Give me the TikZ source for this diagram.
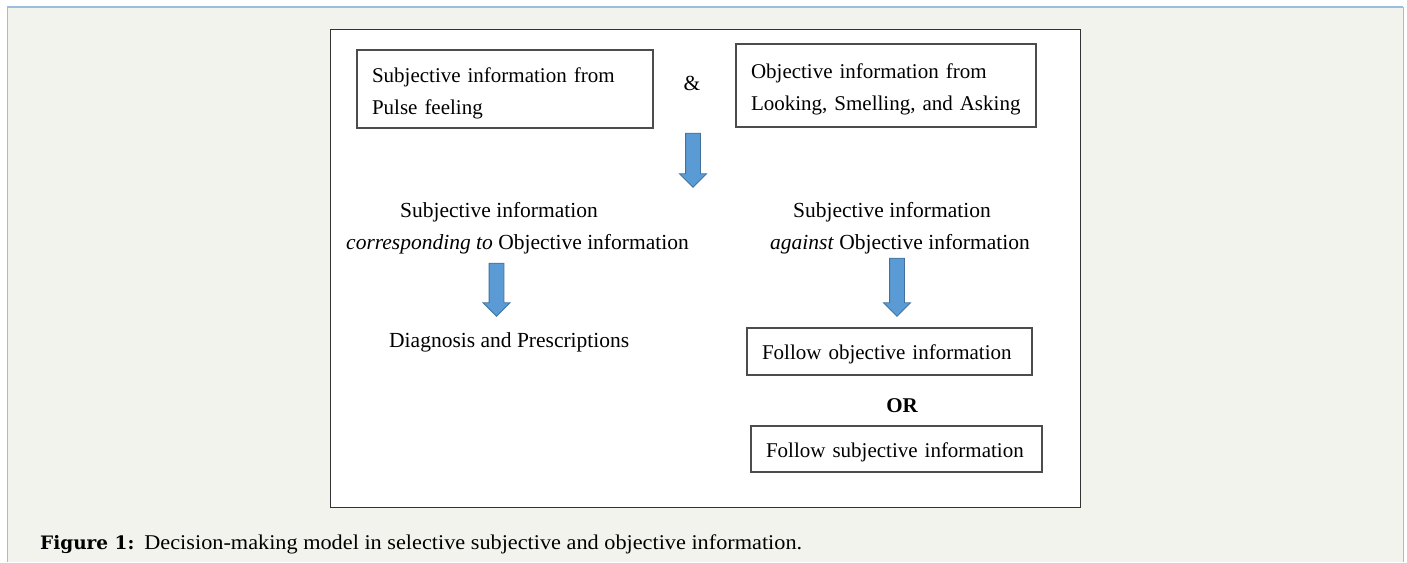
\documentclass[tikz,border=0pt]{standalone}
\usepackage{fontspec}
\setmainfont{Liberation Serif}
\newfontfamily\capfont{Liberation Serif}[FakeStretch=1.06]
\newfontfamily\capboldfont{DejaVu Serif}
\usepackage{xcolor}
\usepackage{tikz}
\usetikzlibrary{shapes.arrows, positioning}

\definecolor{panelbg}{RGB}{243,243,238}
\definecolor{panelline}{RGB}{157,189,224}
\definecolor{arrowfill}{RGB}{91,155,213}
\definecolor{arrowline}{RGB}{65,113,156}

\begin{document}
\begin{tikzpicture}[
    x=1pt, y=-1pt,
    infobox/.style={rectangle, draw=black!70, line width=1.4pt, fill=white, inner xsep=15pt, inner ysep=0pt, align=left, font=\fontsize{21}{32}\selectfont},
    plain/.style={inner sep=0pt, font=\fontsize{21.5}{25}\selectfont},
    blockarrow/.style={single arrow, draw=arrowline, fill=arrowfill, line width=0.8pt, rotate=-90, inner xsep=0pt, inner ysep=7pt, minimum width=0pt, single arrow head extend=6pt, single arrow tip angle=90, single arrow head indent=0pt}
]
\useasboundingbox (0,0) rectangle (1407,562);

% Panel
\fill[panelbg] (7,7) rectangle (1403,562);
\draw[panelline, line width=1pt] (7,562) -- (7,7) -- (1403,7) -- (1403,562);
\draw[panelline, line width=2.2pt] (7,7) -- (1403,7);
\draw[black!80, line width=0.9pt, fill=white] (330,29) rectangle (1080,507);

% Sources
\node[infobox, minimum width=296pt, minimum height=78pt, text width=266pt] (pulse) at (505,89) {\rule{0pt}{23pt}Subjective information from\\Pulse feeling};
\node[infobox, minimum width=300pt, minimum height=83pt, text width=270pt] (looking) at (886,85.5) {\rule{0pt}{22pt}Objective information from\\Looking, Smelling, and Asking};
\node[plain] (amp) at (692,83) {\&};
\node[blockarrow, minimum height=54pt] (arrA) at (693,156.5) {};

% Corresponding branch
\node[plain, anchor=west] (corrTop) at (400,212) {Subjective information};
\node[plain, anchor=west] (corrBot) at (346,244) {\textit{corresponding to} Objective information};
\node[blockarrow, minimum height=53pt] (arrB) at (496.5,286) {};
\node[plain, anchor=west] (diag) at (389,342) {Diagnosis and Prescriptions};

% Against branch
\node[plain, anchor=west] (agTop) at (793,212) {Subjective information};
\node[plain, anchor=west] (agBot) at (770,244) {\textit{against} Objective information};
\node[blockarrow, minimum height=58pt] (arrC) at (897,283.5) {};
\node[infobox, minimum width=285pt, minimum height=47pt, text width=255pt] (followObj) at (889.5,351.5) {\rule{0pt}{21pt}Follow objective information};
\node[plain, font=\fontsize{21}{25}\selectfont\bfseries] (orword) at (902,406) {OR};
\node[infobox, minimum width=291pt, minimum height=46pt, text width=261pt] (followSubj) at (896.5,449) {\rule{0pt}{21pt}Follow subjective information};

% Caption
\node[anchor=base west, inner sep=0pt, font=\fontsize{21}{24}\selectfont\capfont] (caption) at (40,549) {{\capboldfont\fontsize{18.5}{24}\selectfont\bfseries Figure 1:}\hspace{10pt}Decision-making model in selective subjective and objective information.};
\end{tikzpicture}
\end{document}
